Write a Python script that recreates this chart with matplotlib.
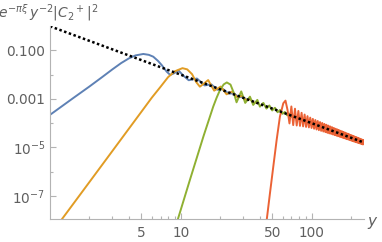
import matplotlib
matplotlib.use("Agg")
import matplotlib.pyplot as plt
from matplotlib.ticker import FixedLocator, FixedFormatter, NullFormatter

# values (x = y, y = e^{-pi xi} y^-2 |C2+|^2)
blue_x = [1.0, 1.5, 2.0, 2.5, 3.0, 3.5, 4.0, 4.5, 5.17, 5.7, 6.16, 6.7, 7.14, 7.8,
          8.3, 8.9, 9.6, 10.5, 11.5, 13.3, 15.2, 17.1, 19.1, 21.1, 23.2, 25.4,
          27.7, 30.0, 32.3]
blue_y = [2.2e-4, 1.07e-3, 3.24e-3, 7.9e-3, 0.0166, 0.0302, 0.0468, 0.0624, 0.0718,
          0.066, 0.0554, 0.037, 0.0252, 0.0134, 9.8e-3, 0.0115, 0.0150, 9.0e-3,
          5.9e-3, 6.95e-3, 3.6e-3, 4.0e-3, 2.39e-3, 2.52e-3, 1.66e-3, 1.70e-3,
          1.19e-3, 1.19e-3, 8.95e-4]

orange_x = [1.22, 1.5, 2.0, 2.5, 3.0, 4.0, 5.0, 6.0, 7.0, 8.0, 9.0, 10.3, 11.2,
            12.2, 13.1, 14.0, 15.1, 16.2, 18.0, 20.2, 22.4, 24.7, 27.0, 29.3,
            31.6, 33.9, 36.2, 38.5]
orange_y = [1.0e-8, 4.5e-8, 3.67e-7, 1.87e-6, 7.08e-6, 5.79e-5, 2.95e-4, 1.12e-3,
            3.16e-3, 7.94e-3, 0.0138, 0.0186, 0.0166, 0.0105, 5.0e-3, 3.2e-3,
            4.4e-3, 6.0e-3, 2.19e-3, 3.24e-3, 1.55e-3, 2.02e-3, 1.17e-3, 1.34e-3,
            8.93e-4, 9.66e-4, 6.97e-4, 7.31e-4]

green_x = [9.46, 11.75, 14.9, 17.7, 18.8, 19.95, 21.3, 22.5, 24.0, 25.5, 26.7,
           27.8, 29.0, 31.1, 33.8, 35.8, 38.5, 40.3, 42.8, 45.2, 47.6, 50.0, 52.5,
           55.0, 57.5, 60.0, 62.5, 65.0, 67.5, 70.0]
green_y = [1.0e-8, 4.57e-7, 2.82e-5, 4.79e-4, 1.12e-3, 2.34e-3, 3.98e-3, 4.79e-3,
           3.9e-3, 1.72e-3, 7.24e-4, 1.2e-3, 2.04e-3, 6.84e-4, 1.24e-3, 5.65e-4,
           9.12e-4, 4.79e-4, 6.87e-4, 3.98e-4, 5.37e-4, 3.33e-4, 4.32e-4, 2.81e-4,
           3.52e-4, 2.42e-4, 2.90e-4, 2.11e-4, 2.46e-4, 1.84e-4]

red_x = [45.4, 48.1, 51.0, 54.1, 57.3, 60.8, 63.2, 65.5, 67.8,
         70.1, 72.4, 74.7, 77.0, 79.3, 81.6, 83.9, 86.2, 88.5, 90.8,
         93.1, 95.4, 97.7, 100.0, 102.3, 104.6, 106.9, 109.2, 111.5, 113.8,
         116.1, 118.4, 120.7, 123.0, 125.3, 127.6, 129.9, 132.2, 134.5, 136.8,
         139.1, 141.4, 143.7, 146.0, 148.3, 150.6, 152.9, 155.2, 157.5, 159.8,
         162.1, 164.4, 166.7, 169.0, 171.3, 173.6, 175.9, 178.2, 180.5, 182.8,
         185.1, 187.4, 189.7, 192.0, 194.3, 196.6, 198.9, 201.2, 203.5, 205.8,
         208.1, 210.4, 212.7, 215.0, 217.3, 219.6, 221.9, 224.2, 226.5, 228.8,
         231.1, 233.4, 235.7, 238.0, 240.3, 242.6, 244.9, 247.2, 249.5]
red_y = [1.0e-8, 1.29e-7, 1.62e-6, 2.04e-5, 1.86e-4, 6.6e-4, 8.5e-4, 3.5e-4, 9.7e-5,
         4.88e-4, 8.3e-5, 3.94e-4, 8.0e-5, 3.18e-4, 7.7e-5, 2.67e-4, 7.36e-5, 2.26e-4, 7.0e-5,
         1.95e-4, 6.66e-5, 1.69e-4, 6.31e-5, 1.50e-4, 5.86e-5, 1.35e-4, 5.46e-5, 1.23e-4, 5.11e-5,
         1.11e-4, 4.79e-5, 1.02e-4, 4.50e-5, 9.30e-5, 4.24e-5, 8.59e-5, 3.97e-5, 7.90e-5, 3.76e-5,
         7.29e-5, 3.57e-5, 6.78e-5, 3.37e-5, 6.30e-5, 3.19e-5, 5.88e-5, 3.03e-5, 5.50e-5, 2.88e-5,
         5.16e-5, 2.74e-5, 4.84e-5, 2.61e-5, 4.55e-5, 2.49e-5, 4.30e-5, 2.38e-5, 4.05e-5, 2.28e-5,
         3.82e-5, 2.17e-5, 3.63e-5, 2.09e-5, 3.44e-5, 2.00e-5, 3.26e-5, 1.91e-5, 3.10e-5, 1.84e-5,
         2.96e-5, 1.76e-5, 2.82e-5, 1.70e-5, 2.69e-5, 1.63e-5, 2.57e-5, 1.58e-5, 2.46e-5, 1.52e-5,
         2.35e-5, 1.47e-5, 2.25e-5, 1.42e-5, 2.15e-5, 1.37e-5, 2.06e-5, 1.32e-5, 1.98e-5]

# the y^-2 guide line
dotted_x = [1.0, 250.0]
dotted_y = [1.0, 1.6e-5]

xticks = [5, 10, 50, 100]
xticklabels = ["5", "10", "50", "100"]
yticks = [1e-7, 1e-5, 1e-3, 1e-1]
yticklabels = [r"$10^{-7}$", r"$10^{-5}$", "0.001", "0.100"]

axis_grey = "#b3b3b3"
text_grey = "#5f5f5f"

fig = plt.figure(figsize=(3.82, 2.42), dpi=100)
ax = fig.add_axes([0.1309, 0.095, 0.8209, 0.7965])

lw = 1.4
ax.plot(blue_x, blue_y, color="#5E81B5", lw=lw)
ax.plot(orange_x, orange_y, color="#E19C24", lw=lw)
ax.plot(green_x, green_y, color="#8FB032", lw=lw)
ax.plot(red_x, red_y, color="#EB6235", lw=lw)
ax.plot(dotted_x, dotted_y, color="black", lw=1.8, linestyle=(0, (1.0, 1.0)))

ax.set_xscale("log")
ax.set_yscale("log")
ax.set_xlim(1, 250)
ax.set_ylim(1.1e-8, 1.0)

ax.xaxis.set_major_locator(FixedLocator(xticks))
ax.xaxis.set_major_formatter(FixedFormatter(xticklabels))
ax.xaxis.set_minor_locator(FixedLocator([2, 3, 4, 6, 7, 8, 9, 20, 30, 40, 60, 70, 80, 90, 200]))
ax.xaxis.set_minor_formatter(NullFormatter())
ax.yaxis.set_major_locator(FixedLocator(yticks))
ax.yaxis.set_major_formatter(FixedFormatter(yticklabels))
ax.yaxis.set_minor_locator(FixedLocator([1e-6, 1e-4, 1e-2]))
ax.yaxis.set_minor_formatter(NullFormatter())

for side in ["top", "right"]:
    ax.spines[side].set_visible(False)
for side in ["left", "bottom"]:
    ax.spines[side].set_color(axis_grey)
    ax.spines[side].set_linewidth(0.8)

ax.tick_params(which="both", direction="in", color=axis_grey, width=0.8,
               labelcolor=text_grey, labelsize=9.8)
ax.tick_params(which="major", length=4)
ax.tick_params(which="minor", length=2.5)
ax.tick_params(axis="x", pad=5)
ax.tick_params(axis="y", pad=3.5)

# axis labels sit at the ends of the axes, Mathematica style
fig.text(-0.004, 0.93, r"$e^{-\pi\xi}\,y^{-2}|C_2{}^+|^2$", color=text_grey,
         fontsize=10, ha="left", va="baseline")
fig.text(0.962, 0.068, r"$y$", color=text_grey, fontsize=11, ha="left", va="baseline")

fig.savefig("out.png", dpi=100)
